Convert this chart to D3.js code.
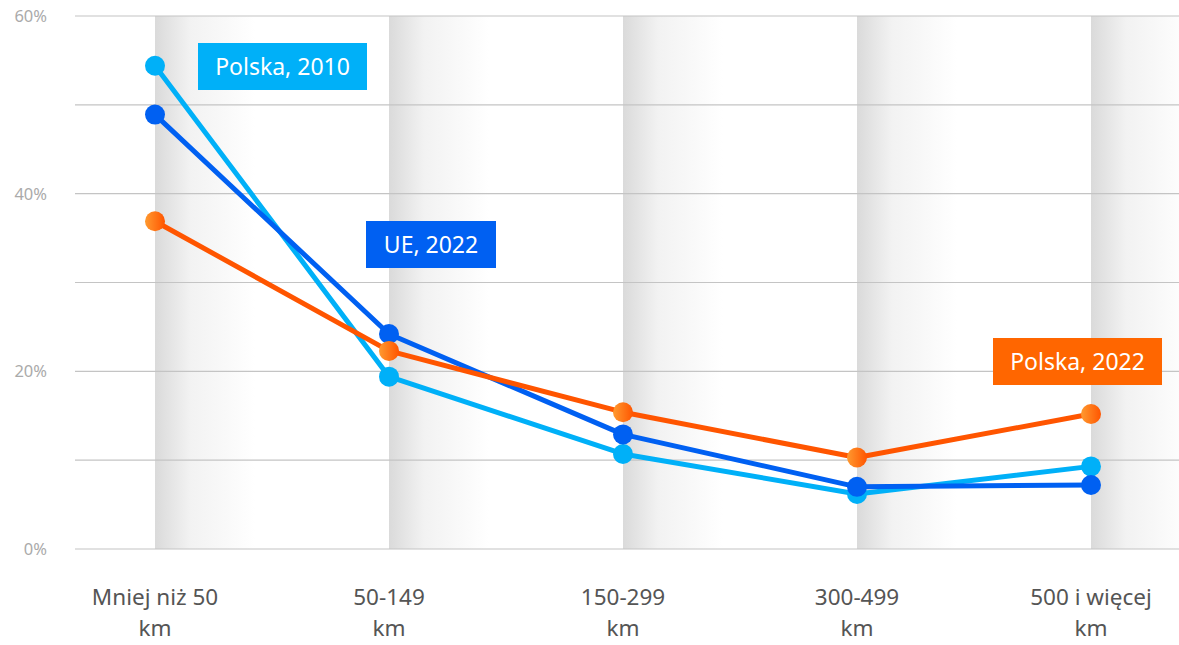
<!DOCTYPE html>
<html><head><meta charset="utf-8">
<script src="https://cdn.jsdelivr.net/npm/d3@7"></script>
<style>body{margin:0;background:#fff;} svg{display:block;}</style>
</head><body>
<svg id="c" width="1179" height="645"></svg>
<script>
const categories = [["Mniej niż 50","km"],["50-149","km"],["150-299","km"],["300-499","km"],["500 i więcej","km"]];
const polska2010 = [54.4, 19.4, 10.7, 6.2, 9.3];
const ue2022 = [48.9, 24.2, 12.9, 7.0, 7.2];
const polska2022 = [36.9, 22.3, 15.4, 10.3, 15.2];
const yTicks = [0, 10, 20, 30, 40, 50, 60];
const yLabelTicks = [0, 20, 40, 60];

const series = [
  {name:"Polska, 2010", values: polska2010, color:"#00b0f8", box:{x:198,y:43,w:169}},
  {name:"UE, 2022", values: ue2022, color:"#0060f2", box:{x:366,y:221,w:130}},
  {name:"Polska, 2022", values: polska2022, color:"#ff5500", boxColor:"#ff6600", box:{x:993,y:338,w:169}, grad:true}
];

const svg = d3.select("#c");
const font = "'Noto Sans', sans-serif";
const x = d3.scalePoint().domain(d3.range(categories.length)).range([155, 1091]);
const y = d3.scaleLinear().domain([0, 60]).range([549, 16]);

const defs = svg.append("defs");
const bg = defs.append("linearGradient").attr("id","band");
bg.append("stop").attr("offset","0%").attr("stop-color","#dadada");
bg.append("stop").attr("offset","35%").attr("stop-color","#f2f2f2");
bg.append("stop").attr("offset","100%").attr("stop-color","#ffffff");
const og = defs.append("linearGradient").attr("id","og");
og.append("stop").attr("offset","0%").attr("stop-color","#ff9a30");
og.append("stop").attr("offset","100%").attr("stop-color","#ff5500");

// bands
svg.append("g").selectAll("rect").data(d3.range(categories.length)).join("rect")
  .attr("x", d => x(d)).attr("y", y(60)).attr("width", 100).attr("height", y(0)-y(60))
  .attr("fill","url(#band)");

// grid
svg.append("g").selectAll("line").data(yTicks).join("line")
  .attr("x1", 75).attr("x2", 1179).attr("y1", d => y(d)).attr("y2", d => y(d))
  .attr("stroke","#c4c4c4").attr("stroke-width",1.2);

// y labels
svg.append("g").selectAll("text").data(yLabelTicks).join("text")
  .attr("x", 47).attr("y", d => y(d)+6).attr("text-anchor","end")
  .attr("font-family", font).attr("font-size", 16.5).attr("fill","#aaaaaa")
  .text(d => d + "%");

// x labels (one text element per line)
const xg = svg.append("g");
categories.forEach((d,i) => {
  d.forEach((lineTxt,j) => {
    xg.append("text").attr("x", x(i)).attr("y", 605 + j*31)
      .attr("text-anchor","middle").attr("font-family", font).attr("font-size", 22.5).attr("fill","#555")
      .text(lineTxt);
  });
});

const line = d3.line().x((d,i)=>x(i)).y(d=>y(d));
series.forEach(s => {
  svg.append("path").datum(s.values).attr("d", line).attr("fill","none")
    .attr("stroke", s.color).attr("stroke-width", 5).attr("stroke-linejoin","round");
});
series.forEach(s => {
  svg.append("g").selectAll("circle").data(s.values).join("circle")
    .attr("cx",(d,i)=>x(i)).attr("cy", d=>y(d)).attr("r", 10)
    .attr("fill", s.grad ? "url(#og)" : s.color);
});

// label boxes
series.forEach(s => {
  const g = svg.append("g");
  g.append("rect").attr("x", s.box.x).attr("y", s.box.y).attr("width", s.box.w).attr("height", 47)
    .attr("fill", s.boxColor || s.color);
  g.append("text").attr("x", s.box.x + s.box.w/2).attr("y", s.box.y + 32)
    .attr("text-anchor","middle").attr("font-family", font).attr("font-size", 23).attr("fill","#fff")
    .text(s.name);
});
</script>
</body></html>
